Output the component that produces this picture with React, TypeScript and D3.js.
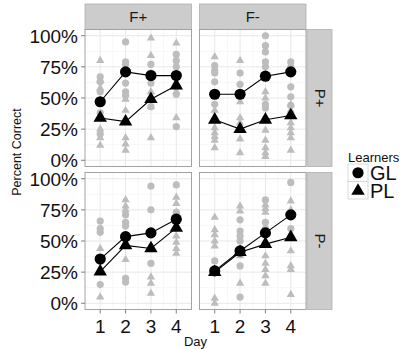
import * as React from "react";
import * as d3 from "d3";

const days = [1, 2, 3, 4];
const colLabels = ["F+", "F-"];
const rowLabels = ["P+", "P-"];
const yTicks = [0, 0.25, 0.5, 0.75, 1];
const yTickLabels = ["0%", "25%", "50%", "75%", "100%"];
const learners = ["GL", "PL"];

// group means, one array per panel (row P, column F), by day
const meanGL_FpPp = [0.47, 0.71, 0.68, 0.68];
const meanPL_FpPp = [0.34, 0.31, 0.49, 0.6];
const meanGL_FmPp = [0.53, 0.53, 0.675, 0.71];
const meanPL_FmPp = [0.325, 0.25, 0.325, 0.36];
const meanGL_FpPm = [0.355, 0.535, 0.565, 0.675];
const meanPL_FpPm = [0.255, 0.465, 0.44, 0.605];
const meanGL_FmPm = [0.26, 0.42, 0.565, 0.71];
const meanPL_FmPm = [0.25, 0.41, 0.475, 0.53];

// individual learners, per day
const rawGL_FpPp = [
  [0.67, 0.63, 0.55, 0.47, 0.38, 0.21],
  [0.95, 0.79, 0.77, 0.71, 0.62, 0.55, 0.52],
  [0.77, 0.7, 0.68, 0.62, 0.43],
  [0.85, 0.8, 0.75, 0.69, 0.68, 0.59, 0.53, 0.27],
];
const rawPL_FpPp = [
  [0.8, 0.64, 0.58, 0.48, 0.25, 0.18, 0.12],
  [0.49, 0.4, 0.18, 0.13, 0.08],
  [0.98, 0.84, 0.55, 0.43, 0.18],
  [0.94, 0.6, 0.55, 0.34],
];
const rawGL_FmPp = [
  [0.76, 0.72, 0.7, 0.63, 0.53, 0.45],
  [0.7, 0.61, 0.53],
  [1.0, 0.92, 0.87, 0.79, 0.75, 0.68, 0.45, 0.42],
  [0.79, 0.75, 0.59, 0.51, 0.44],
];
const rawPL_FmPp = [
  [0.83, 0.4, 0.26, 0.22, 0.19, 0.16, 0.1],
  [0.8, 0.47, 0.34, 0.3, 0.17, 0.06],
  [0.55, 0.5, 0.24, 0.16, 0.1, 0.06, 0.03],
  [0.45, 0.4, 0.3, 0.26, 0.22, 0.18, 0.08],
];
const rawGL_FpPm = [
  [0.66, 0.6, 0.57, 0.36, 0.15],
  [0.71, 0.65, 0.62, 0.2, 0.17],
  [0.94, 0.75, 0.32],
  [0.95, 0.73, 0.7],
];
const rawPL_FpPm = [
  [0.44, 0.05],
  [0.83, 0.78, 0.75, 0.35],
  [0.45, 0.21, 0.16, 0.08],
  [0.85, 0.8, 0.73, 0.54, 0.49, 0.44, 0.4],
];
const rawGL_FmPm = [
  [0.34, 0.26],
  [0.67, 0.58, 0.54, 0.5, 0.3, 0.05],
  [0.83, 0.65, 0.6],
  [0.97, 0.6],
];
const rawPL_FmPm = [
  [0.69, 0.59, 0.55, 0.5, 0.46, 0.04, 0.0],
  [0.78, 0.74, 0.38, 0.16],
  [0.79, 0.76, 0.73, 0.38, 0.32, 0.27, 0.22, 0.16],
  [0.82, 0.75, 0.42, 0.3, 0.27, 0.07],
];

const panels = [
  { row: 0, col: 0, gl: meanGL_FpPp, pl: meanPL_FpPp, rgl: rawGL_FpPp, rpl: rawPL_FpPp },
  { row: 0, col: 1, gl: meanGL_FmPp, pl: meanPL_FmPp, rgl: rawGL_FmPp, rpl: rawPL_FmPp },
  { row: 1, col: 0, gl: meanGL_FpPm, pl: meanPL_FpPm, rgl: rawGL_FpPm, rpl: rawPL_FpPm },
  { row: 1, col: 1, gl: meanGL_FmPm, pl: meanPL_FmPm, rgl: rawGL_FmPm, rpl: rawPL_FmPm },
];

const width = 401;
const height = 349;
const panelX = [85, 199.5];
const panelW = 106.5;
const panelY = [29.5, 172.5];
const panelH = 137;
const stripTop = 4;
const stripRight = 306;
const stripW = 25;
const font = "'Liberation Sans', Arial, Helvetica, sans-serif";
const gray = "#bdbdbd";

const triangle = (area: number) => d3.symbol(d3.symbolTriangle, area)() || "";

const App: React.FC = () => {
  const x = (col: number) =>
    d3.scaleLinear().domain([0.4, 4.6]).range([panelX[col], panelX[col] + panelW]);
  const y = (row: number) =>
    d3.scaleLinear().domain([-0.05, 1.05]).range([panelY[row] + panelH, panelY[row]]);

  const line = (xs: d3.ScaleLinear<number, number>, ys: d3.ScaleLinear<number, number>) =>
    d3
      .line<number>()
      .x((_, i) => xs(days[i]))
      .y((d) => ys(d));

  return (
    <svg
      width={width}
      height={height}
      viewBox={`0 0 ${width} ${height}`}
      style={{ position: "absolute", left: 0, top: 0, fontFamily: font }}
    >
      <rect width={width} height={height} fill="#fff" />

      {/* column strips */}
      {colLabels.map((lab, c) => (
        <g key={lab}>
          <rect
            x={panelX[c]}
            y={stripTop}
            width={panelW}
            height={panelY[0] - stripTop}
            fill="#cccccc"
            stroke="#b0b0b0"
            strokeWidth={0.8}
          />
          <text
            x={panelX[c] + panelW / 2}
            y={(stripTop + panelY[0]) / 2 + 5}
            textAnchor="middle"
            fontSize={15}
            fill="#1a1a1a"
          >
            {lab}
          </text>
        </g>
      ))}

      {/* row strips */}
      {rowLabels.map((lab, r) => (
        <g key={lab}>
          <rect
            x={stripRight + 1}
            y={panelY[r]}
            width={stripW}
            height={panelH}
            fill="#cccccc"
            stroke="#b0b0b0"
            strokeWidth={0.8}
          />
          <text
            transform={`translate(${stripRight + 1 + stripW / 2 - 5},${panelY[r] + panelH / 2}) rotate(90)`}
            textAnchor="middle"
            fontSize={15}
            fill="#1a1a1a"
          >
            {lab}
          </text>
        </g>
      ))}

      {panels.map((p, k) => {
        const xs = x(p.col);
        const ys = y(p.row);
        const x0 = panelX[p.col];
        const y0 = panelY[p.row];
        const ln = line(xs, ys);
        const minorY = [0.125, 0.375, 0.625, 0.875];
        const minorX = [1.5, 2.5, 3.5];
        return (
          <g key={k}>
            <rect x={x0} y={y0} width={panelW} height={panelH} fill="#fff" />
            {minorY.map((v) => (
              <line key={"my" + v} x1={x0} x2={x0 + panelW} y1={ys(v)} y2={ys(v)} stroke="#f7f7f7" />
            ))}
            {minorX.map((v) => (
              <line key={"mx" + v} y1={y0} y2={y0 + panelH} x1={xs(v)} x2={xs(v)} stroke="#f7f7f7" />
            ))}
            {yTicks.map((v) => (
              <line key={"gy" + v} x1={x0} x2={x0 + panelW} y1={ys(v)} y2={ys(v)} stroke="#e8e8e8" />
            ))}
            {days.map((v) => (
              <line key={"gx" + v} y1={y0} y2={y0 + panelH} x1={xs(v)} x2={xs(v)} stroke="#e8e8e8" />
            ))}

            {/* individual learners */}
            {p.rgl.map((vals, i) =>
              vals.map((v, j) => (
                <circle key={`gc${i}-${j}`} cx={xs(days[i])} cy={ys(v)} r={3.6} fill={gray} />
              ))
            )}
            {p.rpl.map((vals, i) =>
              vals.map((v, j) => (
                <path
                  key={`gt${i}-${j}`}
                  transform={`translate(${xs(days[i])},${ys(v)})`}
                  d={triangle(30)}
                  fill={gray}
                />
              ))
            )}

            {/* means */}
            <path d={ln(p.gl) || ""} fill="none" stroke="#000" strokeWidth={1.1} />
            <path d={ln(p.pl) || ""} fill="none" stroke="#000" strokeWidth={1.1} />
            {p.gl.map((v, i) => (
              <circle key={"mc" + i} cx={xs(days[i])} cy={ys(v)} r={5.6} fill="#000" />
            ))}
            {p.pl.map((v, i) => (
              <path
                key={"mt" + i}
                transform={`translate(${xs(days[i])},${ys(v)})`}
                d={triangle(78)}
                fill="#000"
              />
            ))}

            <rect
              x={x0}
              y={y0}
              width={panelW}
              height={panelH}
              fill="none"
              stroke="#9a9a9a"
              strokeWidth={0.9}
            />

            {/* y axis */}
            {p.col === 0 &&
              yTicks.map((v, i) => (
                <g key={"yt" + v} transform={`translate(${x0},${ys(v)})`}>
                  <line x1={-4} x2={0} stroke="#7f7f7f" />
                  <text x={-7} dy="0.36em" textAnchor="end" fontSize={19} fill="#111">
                    {yTickLabels[i]}
                  </text>
                </g>
              ))}

            {/* x axis */}
            {p.row === 1 &&
              days.map((v) => (
                <g key={"xt" + v} transform={`translate(${xs(v)},${y0 + panelH})`}>
                  <line y1={0} y2={4} stroke="#7f7f7f" />
                  <text y={23} textAnchor="middle" fontSize={19} fill="#111">
                    {v}
                  </text>
                </g>
              ))}
          </g>
        );
      })}

      <text x={(panelX[0] + panelX[1] + panelW) / 2} y={345.5} textAnchor="middle" fontSize={13} fill="#111">
        Day
      </text>
      <text
        transform={`translate(20.5,152) rotate(-90)`}
        textAnchor="middle"
        fontSize={12.5}
        fill="#111"
      >
        Percent Correct
      </text>

      {/* legend */}
      <text x={348} y={162} fontSize={13} fill="#111">
        Learners
      </text>
      {learners.map((lab, i) => {
        const ky = 164 + i * 17.5;
        return (
          <g key={lab}>
            <rect x={348} y={ky} width={20} height={17.5} fill="#fff" stroke="#d0d0d0" strokeWidth={0.8} />
            {i === 0 ? (
              <circle cx={358} cy={ky + 8.75} r={5.6} fill="#000" />
            ) : (
              <path transform={`translate(358,${ky + 9.5})`} d={triangle(78)} fill="#000" />
            )}
            <text x={370} y={ky + 16} fontSize={20} fill="#111">
              {lab}
            </text>
          </g>
        );
      })}
    </svg>
  );
};

export default App;
